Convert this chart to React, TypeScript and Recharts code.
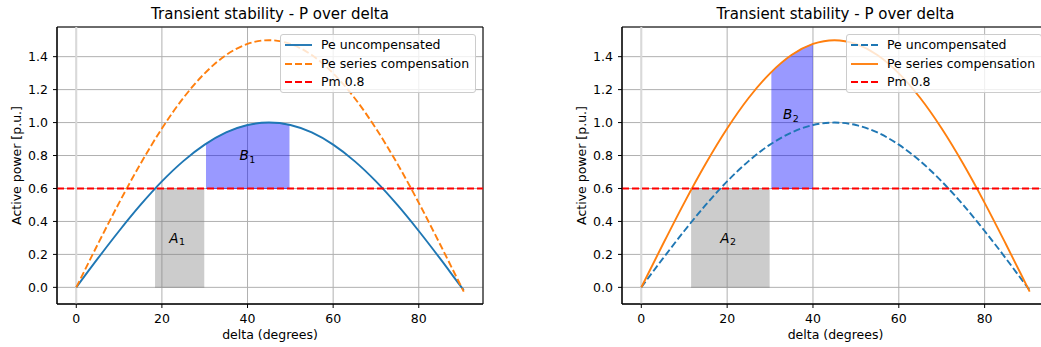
import {
  ComposedChart,
  Line,
  Area,
  XAxis,
  YAxis,
  CartesianGrid,
  ReferenceLine,
  ReferenceArea,
  ReferenceDot,
} from "recharts"

// load angle (degrees) and electrical power curves [p.u.]
const delta = [0, 5, 10, 15, 20, 25, 30, 35, 40, 45, 50, 55, 60, 65, 70, 75, 80, 85, 90, 90.5]
const peUncompensated = [
  0, 0.174, 0.342, 0.5, 0.643, 0.766, 0.866, 0.94, 0.985, 1.0, 0.985, 0.94, 0.866, 0.766, 0.643, 0.5,
  0.342, 0.174, 0, -0.017,
]
const peSeries = [
  0, 0.26, 0.513, 0.75, 0.964, 1.149, 1.299, 1.41, 1.477, 1.5, 1.477, 1.41, 1.299, 1.149, 0.964, 0.75,
  0.513, 0.26, 0, -0.026,
]
const pm = 0.6

// accelerating areas (between 0 and Pm)
const a1Delta = [18.4, 29.9]
const a2Delta = [11.6, 29.9]

// decelerating areas (between Pm and the curve)
const b1Delta = [30.3, 32.5, 35, 37.5, 40, 42.5, 45, 47.5, 49.8]
const b1Top = [0.871, 0.906, 0.94, 0.966, 0.985, 0.996, 1.0, 0.996, 0.985]
const b2Delta = [30.3, 32.5, 35, 37.5, 40]
const b2Top = [1.307, 1.359, 1.41, 1.449, 1.477]

const labels1 = [
  { name: "A", sub: "1", delta: 21.7, p: 0.3 },
  { name: "B", sub: "1", delta: 38.1, p: 0.8 },
]
const labels2 = [
  { name: "A", sub: "2", delta: 18.4, p: 0.3 },
  { name: "B", sub: "2", delta: 33.0, p: 1.05 },
]

const xTicks = [0, 20, 40, 60, 80]
const yTicks = [0, 0.2, 0.4, 0.6, 0.8, 1.0, 1.2, 1.4]
const X_DOMAIN: [number, number] = [-4.5, 95.0]
const Y_DOMAIN: [number, number] = [-0.101, 1.58]

const BLUE = "#1f77b4"
const ORANGE = "#ff7f0e"
const RED = "#ff0000"
const FONT = "DejaVu Sans, sans-serif"

const curveData = delta.map((d, i) => ({ d, u: peUncompensated[i], s: peSeries[i] }))
const areaA = (xs: number[]) => xs.map((d) => ({ d, r: [0, pm] }))
const areaB = (xs: number[], tops: number[]) => xs.map((d, i) => ({ d, r: [pm, tops[i]] }))

interface PanelProps {
  left: number
  width: number
  marginRight: number
  compensated: boolean
  aData: { d: number; r: number[] }[]
  bData: { d: number; r: number[] }[]
  labels: { name: string; sub: string; delta: number; p: number }[]
}

const AreaLabel = ({ cx, cy, name, sub }: any) => (
  <text x={cx} y={cy + 4.8} fontFamily={FONT} fontSize={13.5} fill="#000">
    <tspan fontStyle="italic">{name}</tspan>
    <tspan fontSize={9.5} dx={0.5} dy={2.5}>
      {sub}
    </tspan>
  </text>
)

const LegendRow = ({ top, color, dashed, text }: any) => (
  <div style={{ position: "absolute", left: 0, top: top - 9, height: 18, width: "100%" }}>
    <svg width={32} height={18} style={{ position: "absolute", left: 4, top: 0 }}>
      <line x1={0} x2={27} y1={9} y2={9} stroke={color} strokeWidth={1.9} strokeDasharray={dashed ? "7 3" : undefined} />
    </svg>
    <span style={{ position: "absolute", left: 40, top: 0, lineHeight: "18px", fontSize: 12.5, whiteSpace: "nowrap" }}>
      {text}
    </span>
  </div>
)

const Panel = ({ left, width, marginRight, compensated, aData, bData, labels }: PanelProps) => {
  const plotLeft = 57
  const plotRight = width - marginRight
  return (
    <div style={{ position: "absolute", left, top: 0, width, height: 347 }}>
      <ComposedChart width={width} height={347} margin={{ top: 27, right: marginRight, bottom: 5, left: 0 }}>
        <XAxis
          dataKey="d"
          type="number"
          domain={X_DOMAIN}
          ticks={xTicks}
          allowDataOverflow
          height={38}
          tickSize={4}
          tickMargin={6}
          stroke="#000"
          tick={{ fontSize: 12.5, fill: "#000", fontFamily: FONT }}
          label={{
            content: (p: any) => (
              <text
                x={p.viewBox.x + p.viewBox.width / 2}
                y={p.viewBox.y + 35}
                textAnchor="middle"
                fontFamily={FONT}
                fontSize={12.5}
                fill="#000"
              >
                delta (degrees)
              </text>
            ),
          }}
        />
        <YAxis
          type="number"
          domain={Y_DOMAIN}
          ticks={yTicks}
          allowDataOverflow
          width={57}
          tickSize={4}
          tickMargin={5}
          stroke="#000"
          tickFormatter={(v: number) => v.toFixed(1)}
          tick={{ fontSize: 12.5, fill: "#000", fontFamily: FONT }}
          label={{
            content: (p: any) => {
              const cx = 16
              const cy = p.viewBox.y + p.viewBox.height / 2
              return (
                <text
                  x={cx}
                  y={cy}
                  transform={`rotate(-90 ${cx} ${cy})`}
                  textAnchor="middle"
                  dominantBaseline="central"
                  fontFamily={FONT}
                  fontSize={12.5}
                  fill="#000"
                >
                  Active power [p.u.]
                </text>
              )
            },
          }}
        />
        <Area
          data={aData}
          dataKey="r"
          type="linear"
          fill="#808080"
          fillOpacity={0.4}
          stroke="#808080"
          strokeOpacity={0.4}
          isAnimationActive={false}
        />
        <Area
          data={bData}
          dataKey="r"
          type="monotone"
          fill="#0000ff"
          fillOpacity={0.4}
          stroke="#0000ff"
          strokeOpacity={0.4}
          isAnimationActive={false}
        />
        <CartesianGrid stroke="#b0b0b0" strokeWidth={1} />
        <ReferenceLine x={0} stroke="#d9d9d9" strokeWidth={2} />
        <Line
          data={curveData}
          dataKey="u"
          type="monotone"
          stroke={BLUE}
          strokeWidth={1.9}
          strokeDasharray={compensated ? "7 3" : undefined}
          dot={false}
          isAnimationActive={false}
        />
        <Line
          data={curveData}
          dataKey="s"
          type="monotone"
          stroke={ORANGE}
          strokeWidth={1.9}
          strokeDasharray={compensated ? undefined : "7 3"}
          dot={false}
          isAnimationActive={false}
        />
        <ReferenceLine y={pm} stroke={RED} strokeWidth={1.9} strokeDasharray="7 3" />
        {labels.map((l) => (
          <ReferenceDot
            key={l.name}
            x={l.delta}
            y={l.p}
            r={0}
            shape={(props: any) => <AreaLabel cx={props.cx} cy={props.cy} name={l.name} sub={l.sub} />}
          />
        ))}
        <ReferenceArea
          x1={X_DOMAIN[0]}
          x2={X_DOMAIN[1]}
          y1={Y_DOMAIN[0]}
          y2={Y_DOMAIN[1]}
          fill="none"
          stroke="#000"
          strokeWidth={1}
          ifOverflow="visible"
        />
      </ComposedChart>
      <div
        style={{
          position: "absolute",
          left: plotLeft,
          width: plotRight - plotLeft,
          top: 5,
          textAlign: "center",
          fontSize: 15,
          lineHeight: "19px",
        }}
      >
        Transient stability - P over delta
      </div>
      <div
        style={{
          position: "absolute",
          left: plotRight - 203,
          top: 34,
          width: 196,
          height: 59,
          boxSizing: "border-box",
          border: "1px solid #cccccc",
          borderRadius: 3,
          background: "rgba(255,255,255,0.8)",
        }}
      >
        <LegendRow top={10} color={BLUE} dashed={compensated} text="Pe uncompensated" />
        <LegendRow top={28.7} color={ORANGE} dashed={!compensated} text="Pe series compensation" />
        <LegendRow top={47.3} color={RED} dashed text="Pm 0.8" />
      </div>
    </div>
  )
}

export default function App() {
  return (
    <div
      style={{
        position: "fixed",
        left: 0,
        top: 0,
        width: 1041,
        height: 347,
        overflow: "hidden",
        background: "#fff",
        fontFamily: FONT,
        color: "#000",
      }}
    >
      <Panel
        left={0}
        width={500}
        marginRight={17}
        compensated={false}
        aData={areaA(a1Delta)}
        bData={areaB(b1Delta, b1Top)}
        labels={labels1}
      />
      <Panel
        left={565}
        width={494}
        marginRight={10}
        compensated
        aData={areaA(a2Delta)}
        bData={areaB(b2Delta, b2Top)}
        labels={labels2}
      />
    </div>
  )
}
